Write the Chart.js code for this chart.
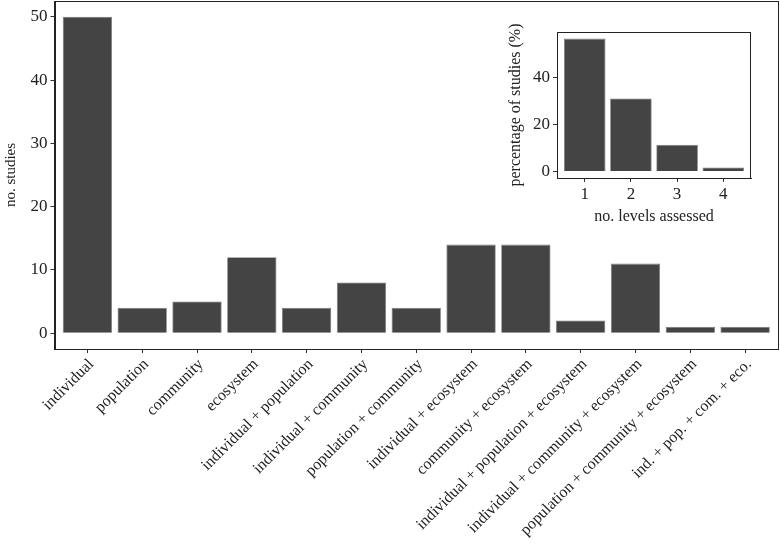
<!DOCTYPE html>
<html lang="en">
<head>
  <meta charset="UTF-8">
  <title>Studies by level</title>
  <style>
    body { margin: 0; background: #fff; }
    #wrap { position: relative; width: 780px; height: 546px; }
    #main { position: absolute; left: 0; top: 0; }
    #inset { position: absolute; left: 500px; top: 20px; }
  </style>
</head>
<body>
  <div id="wrap">
    <canvas id="main" width="780" height="546"></canvas>
    <canvas id="inset" width="260" height="212"></canvas>
  </div>
  <script src="https://cdn.jsdelivr.net/npm/chart.js"></script>
  <script>
    // main panel data
    const levels = ['individual', 'population', 'community', 'ecosystem',
      'individual + population', 'individual + community', 'population + community',
      'individual + ecosystem', 'community + ecosystem', 'individual + population + ecosystem',
      'individual + community + ecosystem', 'population + community + ecosystem',
      'ind. + pop. + com. + eco.'];
    const nStudies = [50, 4, 5, 12, 4, 8, 4, 14, 14, 2, 11, 1, 1];
    const mainTicks = [0, 10, 20, 30, 40, 50];

    // inset data
    const nLevels = ['1', '2', '3', '4'];
    const pctStudies = [56.5, 31, 11.3, 1.7];
    const insetTicks = [0, 20, 40];

    const FONT = "'Liberation Serif', 'Times New Roman', serif";
    const TXT = '#222';
    const BAR = '#444444';

    Chart.defaults.font.family = FONT;
    Chart.defaults.color = TXT;

    // black box round the plot area, like the ggplot panel border
    const panelBox = {
      id: 'panelBox',
      afterDraw(chart) {
        const a = chart.chartArea, c = chart.ctx;
        c.save();
        c.strokeStyle = '#222';
        c.lineWidth = 1;
        c.strokeRect(Math.round(a.left) + 0.5, Math.round(a.top) + 0.5,
          Math.round(a.right - a.left) - 1, Math.round(a.bottom - a.top));
        c.restore();
      }
    };

    function mkChart(el, cats, vals, yTicks, o) {
      return new Chart(document.getElementById(el), {
        type: 'bar',
        data: {
          datasets: [{
            data: vals.map((v, i) => ({ x: i, y: v })),
            backgroundColor: BAR,
            borderColor: '#7a7a7a',
            borderWidth: 0.8,
            categoryPercentage: 1,
            barPercentage: 0.9
          }]
        },
        options: {
          responsive: false,
          animation: false,
          layout: { padding: o.pad },
          plugins: { legend: { display: false }, tooltip: { enabled: false } },
          scales: {
            x: {
              type: 'linear',
              offset: false,
              min: -0.6,
              max: cats.length - 0.4,
              bounds: 'data',
              afterBuildTicks: s => { s.ticks = cats.map((c, i) => ({ value: i })); },
              afterFit: s => { s.height = o.xh; s.paddingLeft = 0; s.paddingRight = 0; },
              grid: { offset: false, drawOnChartArea: false, tickLength: 4, color: '#333' },
              border: { color: '#222' },
              ticks: {
                autoSkip: false,
                minRotation: o.rot, maxRotation: o.rot,
                padding: 2,
                labelOffset: o.lo,
                font: { size: o.xfs },
                callback: v => cats[v]
              },
              title: o.xTitle ? { display: true, text: o.xTitle, font: { size: o.tfs }, padding: { top: 0, bottom: 6 } } : { display: false }
            },
            y: {
              min: o.ymin,
              max: o.ymax,
              afterBuildTicks: s => { s.ticks = yTicks.map(v => ({ value: v })); },
              afterFit: s => { s.width = o.yw; s.paddingTop = 0; s.paddingBottom = 0; },
              grid: { drawOnChartArea: false, tickLength: 4, color: '#333' },
              border: { color: '#222' },
              ticks: { padding: 3, font: { size: o.yfs } },
              title: { display: true, text: o.yTitle, font: { size: o.tfs }, padding: 0 }
            }
          }
        },
        plugins: [panelBox]
      });
    }

    mkChart('main', levels, nStudies, mainTicks, {
      pad: { top: 1, right: 2, left: 2, bottom: 0 },
      xh: 197, yw: 52.5, rot: 45, lo: 4, xfs: 16, yfs: 17, tfs: 15,
      ymin: -2.5, ymax: 52.5, yTitle: 'no. studies'
    });

    mkChart('inset', nLevels, pctStudies, insetTicks, {
      pad: { top: 12, right: 9, left: 6, bottom: 0 },
      xh: 54, yw: 51, rot: 0, lo: 0, xfs: 17, yfs: 17, tfs: 16,
      ymin: -2.8, ymax: 59.3, yTitle: 'percentage of studies (%)', xTitle: 'no. levels assessed'
    });
  </script>
</body>
</html>
